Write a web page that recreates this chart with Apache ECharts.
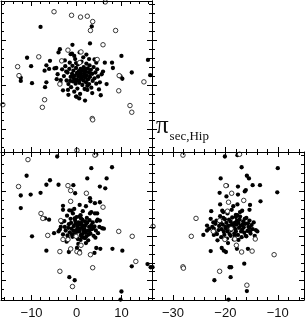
<!DOCTYPE html>
<html><head><meta charset="utf-8">
<script src="https://cdn.jsdelivr.net/npm/echarts@6/dist/echarts.min.js"></script>
<style>html,body{margin:0;padding:0;background:#fff}#c{width:305px;height:320px}</style>
</head><body><div id="c"></div>
<script>
// ---- axis ranges and ticks ----
const leftXRange = [-16.8, 16.8];
const rightXRange = [-34, -5];
const topYRange = [-15, 18.8];
const botYRange = [-14.3, 18.7];
const leftXMajor = [-10, 0, 10];
const leftXMinor = [-16, -14, -12, -8, -6, -4, -2, 2, 4, 6, 8, 12, 14, 16];
const rightXMajor = [-30, -20, -10];
const rightXMinor = [-32, -28, -26, -24, -22, -18, -16, -14, -12, -8, -6];
const yMajor = [-10, 0, 10];
const yMinor = [-14, -12, -8, -6, -4, -2, 2, 4, 6, 8, 12, 14, 16, 18];
const cornerLabel = 'sec,Hip';

// ---- top-left panel ----
const topFilled = [[-8.0,13.0],[3.4,13.1],[-0.9,9.0],[3.0,9.3],[-3.7,8.0],[-4.0,7.3],[0.7,7.3],[2.2,6.8],[-1.3,6.9],[-11.0,6.1],[-5.9,5.4],[-10.1,4.2],[-6.7,4.4],[-4.9,3.7],[-6.1,3.6],[-7.1,3.2],[-12.4,1.6],[-12.4,0.9],[-9.9,0.4],[-6.7,0.6],[-7.0,-0.5],[10.0,6.5],[7.9,5.0],[8.1,3.8],[15.9,5.6],[16.4,2.2],[12.3,2.8],[9.8,1.9],[10.2,1.4],[6.7,0.2],[5.2,0.6],[5.4,-2.3],[1.9,-3.5],[-0.1,-2.6],[2.4,-1.1],[-1.9,-1.1],[-3.5,1.1],[-4.4,1.3],[6.3,5.0],[5.9,3.0],[4.4,5.0],[4.0,5.7],
[-3.2,3.5],[-2.8,2.0],[-2.5,4.2],[-2.2,1.0],[-2.0,2.8],[-1.8,0.2],[-1.6,3.6],[-1.5,5.0],[-1.3,1.8],[-1.2,-0.5],[-1.0,2.5],[-0.9,4.3],[-0.8,0.8],[-0.7,3.2],[-0.6,1.5],[-0.5,-1.5],[-0.4,2.1],[-0.3,5.8],[-0.2,0.3],[-0.1,3.8],[0.0,1.2],[0.1,2.7],[0.2,-0.8],[0.3,4.6],[0.4,1.9],[0.5,3.1],[0.6,0.5],[0.7,2.4],[0.8,-2.0],[0.9,3.6],[1.0,1.4],[1.1,5.2],[1.2,2.0],[1.3,0.0],[1.4,3.3],[1.5,1.0],[1.6,4.0],[1.7,2.6],[1.8,-0.9],[1.9,1.7],[2.0,3.0],[2.1,0.6],[2.2,4.8],[2.3,2.2],[2.4,-0.2],[2.5,3.7],[2.6,1.3],[2.7,2.9],[2.8,0.2],[2.9,4.4],[3.0,1.8],[3.2,3.4],[3.3,-0.6],[3.5,2.5],[3.6,0.9],[3.8,4.0],[4.0,1.5],[4.2,2.8],[4.4,0.3],[4.6,3.5],[4.8,1.9],[5.0,-1.0],[-3.6,0.5],[-3.0,-1.2],[-2.6,5.5],[-4.2,2.4],[-0.5,6.5],[1.5,6.2],[0.0,-2.6],[-1.8,-2.2],[2.8,5.8],[3.5,-1.8],[-1.0,7.0],[0.6,-3.0],[5.6,2.4],[-4.5,3.8],[-2.3,3.0],[-0.2,1.0],[0.9,2.3],[1.6,1.9],[2.0,2.0],[0.3,2.5],[1.0,3.0],[-0.8,2.0],[0.5,1.0],[1.8,3.6],[2.4,1.2],[-1.4,0.9],[-0.1,4.9],[3.1,2.6]];
const topOpen = [[-5.0,16.4],[-1.1,15.6],[0.9,15.2],[2.4,15.4],[3.6,14.2],[3.1,12.2],[8.7,12.2],[6.4,18.6],[5.9,9.0],[-1.9,7.8],[1.0,7.4],[-8.4,6.3],[-13.1,4.1],[-12.8,2.1],[-3.3,5.4],[-3.7,0.2],[0.7,5.0],[4.6,5.7],[9.5,2.1],[15.0,0.7],[9.4,-1.3],[-7.1,-3.3],[-7.6,-5.0],[11.9,-4.6],[12.3,-6.1],[-16.4,-4.4],[3.5,-7.5],[3.6,-7.8],[0.1,-14.6]];

// ---- bottom-left panel ----
const blFilled = [[-4.3,17.7],[4.4,18.1],[3.3,15.1],[7.9,15.3],[-11.1,13.4],[-5.9,12.4],[-6.7,11.4],[-4.0,11.4],[-0.7,11.3],[2.4,12.8],[6.7,12.8],[5.2,11.0],[6.4,10.6],[-8.0,9.6],[-10.2,9.2],[-12.4,9.0],[-12.4,6.2],[-0.3,9.5],[3.0,8.4],[3.1,7.7],[4.1,7.3],[5.2,7.5],[-3.0,6.7],[0.7,6.9],[2.1,6.6],[-1.1,5.6],[-3.0,5.8],[4.1,5.0],[4.6,5.0],[3.3,5.3],[-7.0,3.9],[-6.1,3.6],[4.7,3.6],[5.2,3.4],[5.7,1.7],[6.1,1.6],[-9.9,-0.1],[-5.0,0.6],[-3.7,1.4],[1.9,-0.5],[2.2,-0.1],[4.4,-2.7],[5.3,-2.9],[4.0,-3.8],[0.1,-2.7],[-1.7,-3.6],[0.7,-3.4],[-6.7,-3.3],[8.0,-2.9],[10.2,-3.3],[12.3,-6.8],[15.8,-6.3],[16.5,-7.0],[-1.6,-9.2],[-0.4,-9.9],[10.0,-12.4],[9.8,-14.2],[-2.0,0.1],[1.1,-0.1],
[-3.5,2.0],[-3.0,0.3],[-2.7,3.3],[-2.4,1.2],[-2.1,4.5],[-1.9,-0.5],[-1.7,2.6],[-1.5,0.8],[-1.3,3.8],[-1.1,1.6],[-0.9,-0.2],[-0.8,5.0],[-0.6,2.2],[-0.4,0.4],[-0.3,3.4],[-0.1,1.3],[0.0,4.2],[0.2,2.0],[0.3,-0.7],[0.5,3.0],[0.6,1.0],[0.8,2.5],[0.9,4.6],[1.0,0.2],[1.2,1.8],[1.3,3.6],[1.5,2.3],[1.6,-0.4],[1.8,1.4],[1.9,3.2],[2.0,0.7],[2.2,2.7],[2.3,4.0],[2.5,1.1],[2.6,-1.0],[2.8,2.0],[2.9,3.5],[3.1,0.5],[3.3,2.4],[3.4,1.5],[3.6,3.0],[3.8,0.0],[4.0,2.1],[4.3,1.2],[4.5,3.3],[4.8,0.6],[5.1,2.0],[-4.0,1.0],[-2.2,-1.3],[-0.5,6.0],[1.4,5.5],[3.0,5.0],[0.4,-1.8],[-1.6,5.7],[2.1,-1.6],[-0.2,2.8],[0.7,1.6],[1.1,2.9],[1.7,0.9],[-0.7,1.1],[0.1,0.9],[2.4,3.0],[-1.2,2.9],[1.0,3.9],[0.2,2.4],[1.5,1.2],[-2.6,2.0],[3.7,1.8],[-0.4,3.9],[2.7,0.3],[-3.3,3.0],[4.2,-0.4],[0.6,4.3],[1.9,2.2],[-1.0,0.3],[0.9,-0.9],[-1.8,1.8],[2.9,1.2],[0.3,1.5],[1.3,0.4]];
const blOpen = [[-10.8,17.0],[-12.9,11.0],[-1.9,11.2],[-1.3,10.1],[2.2,9.5],[-1.3,7.7],[5.9,6.4],[-7.9,5.0],[-7.5,3.9],[-3.5,3.4],[-6.4,0.1],[-3.0,-0.8],[-1.9,-0.8],[-0.1,-0.1],[9.4,1.0],[12.4,-0.1],[1.0,-2.1],[-1.3,-2.9],[-3.7,-3.5],[0.1,-3.5],[0.7,-3.8],[3.1,-4.2],[13.2,-5.7],[3.6,-7.1],[-3.7,-7.9],[-0.9,-11.3],[4.1,18.0]];

// ---- bottom-right panel ----
const brFilled = [[-20.1,17.7],[-17.7,18.0],[-16.9,15.3],[-10.0,15.1],[-15.9,13.4],[-15.5,12.8],[-20.9,12.8],[-14.8,11.3],[-13.4,11.3],[-17.6,11.0],[-19.7,11.2],[-16.1,10.2],[-16.3,9.9],[-21.1,9.6],[-17.6,9.2],[-10.1,9.7],[-19.8,8.8],[-13.3,7.7],[-21.0,7.0],[-17.7,7.0],[-15.3,6.9],[-18.5,6.6],[-16.8,5.6],[-15.4,5.8],[-22.7,5.5],[-20.4,5.3],[-18.0,4.7],[-17.2,4.3],[-22.3,3.0],[-23.5,2.3],[-23.1,1.6],[-24.2,0.2],[-22.2,0.2],[-15.4,1.8],[-14.2,1.3],[-13.9,1.0],[-16.0,-0.1],[-18.2,0.1],[-20.7,-2.7],[-20.3,-3.3],[-19.9,-3.6],[-22.8,-3.4],[-17.8,-2.9],[-15.7,-2.9],[-16.4,-6.2],[-19.2,-7.0],[-18.9,-7.0],[-19.0,-9.2],[-22.1,-9.9],[-19.4,-14.2],[-33.9,-7.0],[-15.9,-12.3],
[-22.5,2.0],[-22.0,0.8],[-21.7,3.4],[-21.3,1.3],[-21.0,4.4],[-20.8,-0.3],[-20.5,2.5],[-20.3,0.9],[-20.1,3.7],[-19.9,1.6],[-19.7,-0.6],[-19.6,5.0],[-19.4,2.2],[-19.2,0.4],[-19.0,3.2],[-18.9,1.3],[-18.7,4.1],[-18.5,2.0],[-18.4,-0.8],[-18.2,2.9],[-18.0,1.0],[-17.9,2.5],[-17.7,4.6],[-17.6,0.2],[-17.4,1.8],[-17.3,3.6],[-17.1,2.3],[-16.9,-0.3],[-16.8,1.4],[-16.6,3.2],[-16.4,0.7],[-16.2,2.7],[-16.0,4.0],[-15.8,1.1],[-15.6,2.0],[-15.4,3.4],[-15.2,0.5],[-15.0,2.4],[-14.8,1.5],[-14.6,3.0],[-14.4,0.0],[-23.5,1.2],[-22.8,3.8],[-21.5,-1.0],[-20.6,5.6],[-18.8,5.8],[-17.2,5.3],[-19.5,-1.6],[-21.9,2.7],[-20.0,2.0],[-19.1,1.6],[-18.6,2.6],[-18.1,1.5],[-17.5,2.9],[-20.7,1.5],[-19.8,2.9],[-18.3,0.5],[-16.5,1.9],[-19.3,3.6],[-20.2,0.2],[-17.8,3.4],[-16.1,0.0],[-21.2,2.2],[-18.9,2.4],[-17.0,1.0],[-15.7,2.8],[-19.6,1.0],[-20.9,3.0],[-18.0,4.2],[-16.7,2.5],[-22.2,1.6],[-19.0,0.0],[-17.5,-0.9],[-20.4,4.0],[-18.4,1.9],[-15.3,1.0],[-21.6,0.4],[-16.3,3.8]];
const brOpen = [[-28.1,18.0],[-17.3,18.2],[-19.9,11.2],[-18.8,9.5],[-16.5,7.9],[-19.4,7.5],[-19.6,5.5],[-25.6,3.9],[-33.8,2.1],[-22.3,1.0],[-26.5,-0.1],[-20.1,-0.8],[-18.2,-0.7],[-14.3,-0.7],[-17.9,-2.1],[-16.9,-3.6],[-14.9,-3.4],[-10.7,-4.2],[-28.1,-6.9],[-28.0,-7.2],[-21.1,-7.9],[-15.9,-11.0],[-18.9,1.6],[-21.1,3.4]];

const grids = [
  {left: 1, top: 1, width: 151, height: 151},     // top-left
  {left: 1, top: 152, width: 151, height: 148},   // bottom-left
  {left: 152, top: 152, width: 152, height: 148}, // bottom-right
  {left: 152, top: 1, width: 152, height: 151}    // top-right (frame only)
];
const xAxes = [], yAxes = [];
const fmt = v => String(v).replace('-', '\u2212');
function addX(gi, range, major, minor, pos, labels, line) {
  const base = {type: 'value', gridIndex: gi, min: range[0], max: range[1], position: pos,
    splitLine: {show: false}, z: 5};
  xAxes.push(Object.assign({}, base, {
    axisLine: {show: line, onZero: false, lineStyle: {color: '#000', width: 1}},
    axisTick: {show: true, inside: true, length: 5, customValues: major, lineStyle: {color: '#000', width: 1}},
    axisLabel: labels ? {show: true, customValues: major, formatter: fmt, margin: 7,
      fontFamily: 'Liberation Sans', fontSize: 13, color: '#111'} : {show: false}
  }));
  xAxes.push(Object.assign({}, base, {
    axisLine: {show: false, onZero: false},
    axisTick: {show: true, inside: true, length: 3, customValues: minor, lineStyle: {color: '#000', width: 1}},
    axisLabel: {show: false}
  }));
  return xAxes.length - 2;
}
function addY(gi, range, major, minor, pos, line) {
  const base = {type: 'value', gridIndex: gi, min: range[0], max: range[1], position: pos,
    splitLine: {show: false}, z: 5};
  yAxes.push(Object.assign({}, base, {
    axisLine: {show: line, onZero: false, lineStyle: {color: '#000', width: 1}},
    axisTick: {show: true, inside: true, length: 5, customValues: major, lineStyle: {color: '#000', width: 1}},
    axisLabel: {show: false}
  }));
  yAxes.push(Object.assign({}, base, {
    axisLine: {show: false, onZero: false},
    axisTick: {show: true, inside: true, length: 3, customValues: minor, lineStyle: {color: '#000', width: 1}},
    axisLabel: {show: false}
  }));
  return yAxes.length - 2;
}
// panel 0: top-left
const x0 = addX(0, leftXRange, leftXMajor, leftXMinor, 'bottom', false, true);
addX(0, leftXRange, leftXMajor, leftXMinor, 'top', false, true);
const y0 = addY(0, topYRange, yMajor, yMinor, 'left', true);
addY(0, topYRange, yMajor, yMinor, 'right', true);
// panel 1: bottom-left
const x1 = addX(1, leftXRange, leftXMajor, leftXMinor, 'bottom', true, true);
addX(1, leftXRange, leftXMajor, leftXMinor, 'top', false, true);
const y1 = addY(1, botYRange, yMajor, yMinor, 'left', true);
addY(1, botYRange, yMajor, yMinor, 'right', true);
// panel 2: bottom-right
const x2 = addX(2, rightXRange, rightXMajor, rightXMinor, 'bottom', true, true);
addX(2, rightXRange, rightXMajor, rightXMinor, 'top', false, true);
const y2 = addY(2, botYRange, yMajor, yMinor, 'left', true);
addY(2, botYRange, yMajor, yMinor, 'right', true);
// panel 3: top-right (only shared edges with ticks)
addX(3, rightXRange, rightXMajor, rightXMinor, 'bottom', false, true);
addY(3, topYRange, yMajor, yMinor, 'left', true);

function filledSeries(data, xi, yi) {
  return {type: 'scatter', data: data, xAxisIndex: xi, yAxisIndex: yi, symbol: 'circle', symbolSize: 4.3,
    itemStyle: {color: '#000', opacity: 1}, silent: true, z: 3};
}
function openSeries(data, xi, yi) {
  return {type: 'scatter', data: data, xAxisIndex: xi, yAxisIndex: yi, symbol: 'circle', symbolSize: 4.5,
    itemStyle: {color: '#fff', borderColor: '#222', borderWidth: 0.9, opacity: 1}, silent: true, z: 4};
}

const chart = echarts.init(document.getElementById('c'), null, {renderer: 'canvas'});
chart.setOption({
  animation: false,
  backgroundColor: '#fff',
  grid: grids.map(g => Object.assign({containLabel: false}, g)),
  xAxis: xAxes,
  yAxis: yAxes,
  series: [
    filledSeries(topFilled, x0, y0), openSeries(topOpen, x0, y0),
    filledSeries(blFilled, x1, y1), openSeries(blOpen, x1, y1),
    filledSeries(brFilled, x2, y2), openSeries(brOpen, x2, y2)
  ],
  graphic: [{
    type: 'text', left: 156, top: 114,
    style: {
      text: '{p|\u03c0}{s|' + cornerLabel + '}',
      rich: {
        p: {fontFamily: 'Liberation Serif', fontSize: 25, fill: '#111', verticalAlign: 'bottom'},
        s: {fontFamily: 'Liberation Serif', fontSize: 13, fill: '#111', verticalAlign: 'bottom', padding: [0, 0, -4, 1]}
      }
    }
  }]
});
</script></body></html>
